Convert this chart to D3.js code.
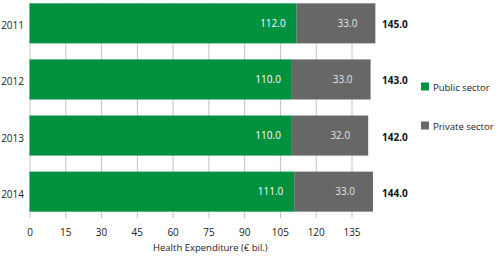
<!DOCTYPE html>
<html>
<head>
<meta charset="utf-8">
<script src="https://cdn.jsdelivr.net/npm/d3@7"></script>
<style>
  body { margin: 0; background: #fff; }
  svg { font-family: "Open Sans", sans-serif; }
</style>
</head>
<body>
<div id="chart"></div>
<script>
// data
var years = ["2011", "2012", "2013", "2014"];
var publicSector = [112.0, 110.0, 110.0, 111.0];
var privateSector = [33.0, 33.0, 32.0, 33.0];
var totals = [145.0, 143.0, 142.0, 144.0];
var xTicks = [0, 15, 30, 45, 60, 75, 90, 105, 120, 135];
var seriesNames = ["Public sector", "Private sector"];
var seriesColors = ["#00913f", "#676767"];

var width = 500, height = 259;

var svg = d3.select("#chart")
  .append("svg")
  .attr("width", width)
  .attr("height", height);

var x = d3.scaleLinear().domain([0, 135]).range([29.5, 351.5]);
var y = d3.scaleBand()
  .domain(years)
  .range([-4.7, 219.7])
  .paddingInner(0.286)
  .paddingOuter(0.143);

var axisY = 218;
var gridTop = y(years[0]);

// x axis with grid lines
var xAxis = d3.axisBottom(x)
  .tickValues(xTicks)
  .tickSizeInner(-(axisY - gridTop))
  .tickSizeOuter(0)
  .tickPadding(11)
  .tickFormat(d3.format("d"));

svg.append("g")
  .attr("class", "x-axis")
  .attr("transform", "translate(0," + axisY + ")")
  .call(xAxis)
  .call(function (g) { g.select(".domain").remove(); })
  .call(function (g) {
    g.selectAll(".tick line").attr("stroke", "#c4c4c4");
    g.selectAll(".tick text")
      .attr("fill", "#222")
      .style("font-size", "10px")
      .style("font-family", "'Open Sans', sans-serif");
  });

svg.append("text")
  .attr("x", 153)
  .attr("y", 251)
  .attr("fill", "#222")
  .style("font-size", "9.5px")
  .text("Health Expenditure (\u20ac bil.)");

// bars
var rows = years.map(function (yr, i) {
  return { year: yr, pub: publicSector[i], priv: privateSector[i], total: totals[i] };
});

var row = svg.selectAll(".row")
  .data(rows)
  .enter()
  .append("g")
  .attr("class", "row");

row.append("rect")
  .attr("x", x(0))
  .attr("y", function (d) { return y(d.year); })
  .attr("width", function (d) { return x(d.pub) - x(0); })
  .attr("height", y.bandwidth())
  .attr("fill", seriesColors[0]);

row.append("rect")
  .attr("x", function (d) { return x(d.pub); })
  .attr("y", function (d) { return y(d.year); })
  .attr("width", function (d) { return x(d.pub + d.priv) - x(d.pub); })
  .attr("height", y.bandwidth())
  .attr("fill", seriesColors[1]);

var midY = function (d) { return y(d.year) + y.bandwidth() / 2; };

row.append("text")
  .attr("x", function (d) { return x(d.pub) - 11; })
  .attr("y", midY)
  .attr("dy", "0.35em")
  .attr("text-anchor", "end")
  .attr("fill", "#fff")
  .style("font-size", "10px")
  .text(function (d) { return d.pub.toFixed(1); });

row.append("text")
  .attr("x", function (d) { return x(d.pub + d.priv) - 18; })
  .attr("y", midY)
  .attr("dy", "0.35em")
  .attr("text-anchor", "end")
  .attr("fill", "#e6e6e6")
  .style("font-size", "10px")
  .text(function (d) { return d.priv.toFixed(1); });

row.append("text")
  .attr("x", 382)
  .attr("y", midY)
  .attr("dy", "0.5em")
  .attr("fill", "#111")
  .attr("font-weight", "bold")
  .style("font-size", "10px")
  .text(function (d) { return d.total.toFixed(1); });

row.append("text")
  .attr("x", 24)
  .attr("y", midY)
  .attr("dy", "0.6em")
  .attr("text-anchor", "end")
  .attr("fill", "#222")
  .style("font-size", "10px")
  .text(function (d) { return d.year; });

// legend
var legend = svg.selectAll(".legend")
  .data(seriesNames)
  .enter()
  .append("g")
  .attr("class", "legend")
  .attr("transform", function (d, i) { return "translate(421," + (82.5 + i * 39) + ")"; });

legend.append("rect")
  .attr("width", 8)
  .attr("height", 8)
  .attr("fill", function (d, i) { return seriesColors[i]; });

legend.append("text")
  .attr("x", 12)
  .attr("y", 8)
  .attr("fill", "#222")
  .style("font-size", "9.5px")
  .text(function (d) { return d; });
</script>
</body>
</html>
